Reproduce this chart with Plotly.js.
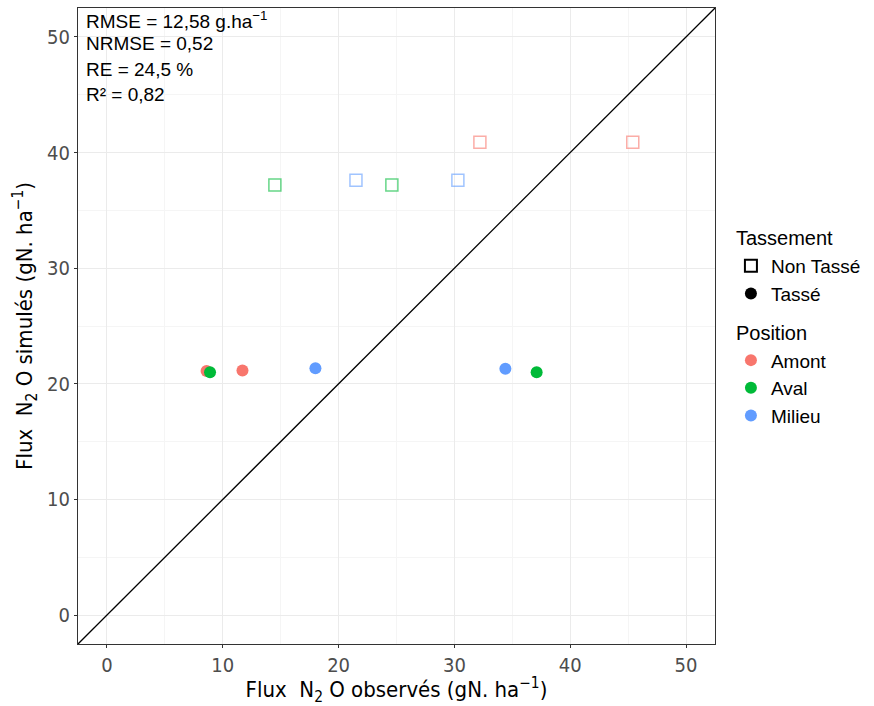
<!DOCTYPE html>
<html>
<head>
<meta charset="utf-8">
<script src="https://cdn.plot.ly/plotly-3.0.1.min.js"></script>
<style>html,body{margin:0;padding:0;background:#fff;}</style>
</head>
<body>
<div id="chart" style="width:874px;height:706px;"></div>
<script>
// Data (observed x, simulated y)
const nonTasseAmontX = [32.2, 45.4];
const nonTasseAmontY = [40.9, 40.9];
const nonTasseAvalX = [14.5, 24.6];
const nonTasseAvalY = [37.2, 37.2];
const nonTasseMilieuX = [21.5, 30.3];
const nonTasseMilieuY = [37.6, 37.6];
const tasseAmontX = [8.6, 11.7];
const tasseAmontY = [21.1, 21.15];
const tasseAvalX = [8.9, 37.1];
const tasseAvalY = [21.0, 21.0];
const tasseMilieuX = [18.0, 34.4];
const tasseMilieuY = [21.35, 21.3];
const identityLine = [-2.5, 52.5];
const statsLines = ["RMSE = 12,58 g.ha<sup>−1</sup>", "NRMSE = 0,52", "RE = 24,5 %", "R² = 0,82"];
const positions = ["Amont", "Aval", "Milieu"];
const colors = {Amont: "#F8766D", Aval: "#00BA38", Milieu: "#619CFF"};
const tickVals = [0, 10, 20, 30, 40, 50];

const nt = {Amont: [nonTasseAmontX, nonTasseAmontY], Aval: [nonTasseAvalX, nonTasseAvalY], Milieu: [nonTasseMilieuX, nonTasseMilieuY]};
const ts = {Amont: [tasseAmontX, tasseAmontY], Aval: [tasseAvalX, tasseAvalY], Milieu: [tasseMilieuX, tasseMilieuY]};

const traces = [];
traces.push({x: identityLine, y: identityLine, mode: "lines", line: {color: "#000", width: 1.3}, showlegend: false, hoverinfo: "skip"});
positions.forEach(p => {
  traces.push({x: nt[p][0], y: nt[p][1], mode: "markers", showlegend: false,
    marker: {symbol: "square-open", size: 12, color: colors[p], opacity: 0.6, line: {width: 1.5}}});
});
positions.forEach(p => {
  traces.push({x: ts[p][0], y: ts[p][1], mode: "markers", showlegend: false,
    marker: {symbol: "circle", size: 12, color: colors[p]}});
});
// legend-only entries
traces.push({x: [null], y: [null], mode: "markers", name: "Non Tassé", legendgroup: "tass",
  legendgrouptitle: {text: "Tassement", font: {size: 20, color: "#000"}},
  marker: {symbol: "square-open", size: 11, color: "#000", line: {width: 1}}});
traces.push({x: [null], y: [null], mode: "markers", name: "Tassé", legendgroup: "tass",
  marker: {symbol: "circle", size: 11, color: "#000"}});
positions.forEach((p, i) => {
  const t = {x: [null], y: [null], mode: "markers", name: p, legendgroup: "pos",
    marker: {symbol: "circle", size: 12, color: colors[p]}};
  if (i === 0) t.legendgrouptitle = {text: "Position", font: {size: 20, color: "#000"}};
  traces.push(t);
});

const condensed = "DejaVu Sans Condensed, Liberation Sans Narrow, Arial Narrow, sans-serif";
const axisCommon = {
  range: [-2.5, 52.5], tickvals: tickVals, showline: true, mirror: true, linecolor: "#333", linewidth: 1,
  ticks: "outside", ticklen: 3, tickcolor: "#333", zeroline: false,
  gridcolor: "#EBEBEB", gridwidth: 1.2,
  minor: {dtick: 5, showgrid: true, gridcolor: "#F5F5F5", gridwidth: 0.8, ticks: ""},
  tickfont: {family: condensed, size: 20, color: "#4D4D4D"}
};

const annotations = statsLines.map((s, i) => ({
  xref: "paper", yref: "paper", x: 0.01, y: 1 - i * 0.04, xanchor: "left", yanchor: "top",
  yshift: 2, text: s, showarrow: false, align: "left",
  font: {family: "Liberation Sans, Arial, sans-serif", size: 19, color: "#000"}
}));

const layout = {
  width: 874, height: 706,
  margin: {l: 78, r: 159, t: 8, b: 62},
  paper_bgcolor: "#fff", plot_bgcolor: "#fff",
  font: {family: "Liberation Sans, Arial, sans-serif"},
  xaxis: Object.assign({}, axisCommon, {title: {text: "Flux  N<sub>2</sub> O observés (gN. ha<sup>−1</sup>)", standoff: 9,
    font: {family: condensed, size: 22, color: "#000"}}}),
  yaxis: Object.assign({}, axisCommon, {title: {text: "Flux  N<sub>2</sub> O simulés (gN. ha<sup>−1</sup>)", standoff: 8,
    font: {family: condensed, size: 22, color: "#000"}}}),
  legend: {x: 1.025, xanchor: "left", y: 0.67, yanchor: "top", font: {size: 19, color: "#000"},
    tracegroupgap: 10, itemwidth: 30, itemsizing: "constant", bgcolor: "rgba(0,0,0,0)"},
  annotations: annotations,
  showlegend: true
};

Plotly.newPlot("chart", traces, layout, {displayModeBar: false});
</script>
</body>
</html>
